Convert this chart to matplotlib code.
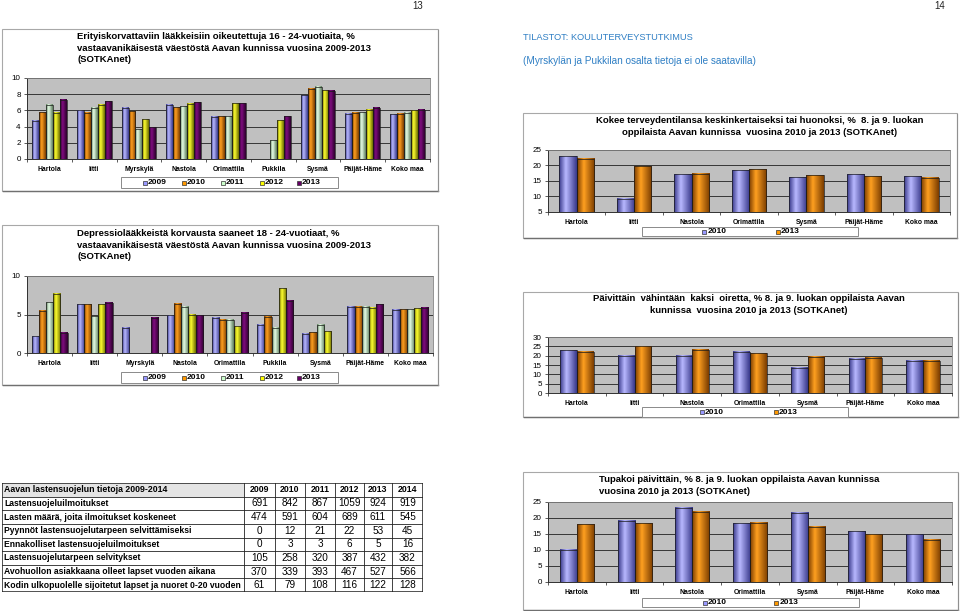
import numpy as np
import matplotlib
matplotlib.use("Agg")
import matplotlib.pyplot as plt
from matplotlib.patches import Rectangle
from matplotlib.lines import Line2D
from matplotlib.colors import LinearSegmentedColormap

plt.rcParams['font.family'] = ['Liberation Sans', 'DejaVu Sans']

# ---- data ----
cats9 = ['Hartola', 'Iitti', 'Myrskylä', 'Nastola', 'Orimattila', 'Pukkila',
         'Sysmä', 'Päijät-Häme', 'Koko maa']
cats7 = ['Hartola', 'Iitti', 'Nastola', 'Orimattila', 'Sysmä', 'Päijät-Häme', 'Koko maa']
years5 = ['2009', '2010', '2011', '2012', '2013']
years2 = ['2010', '2013']
nan = np.nan

# Erityiskorvattaviin laakkeisiin oikeutettuja (per year, per municipality)
erity_2009 = [4.7, 6.0, 6.3, 6.7, 5.2, nan, 7.9, 5.6, 5.5]
erity_2010 = [5.8, 5.7, 5.9, 6.4, 5.3, nan, 8.7, 5.7, 5.6]
erity_2011 = [6.7, 6.3, 3.7, 6.5, 5.3, 2.3, 8.9, 5.8, 5.7]
erity_2012 = [5.7, 6.7, 4.9, 6.8, 6.9, 4.8, 8.5, 6.1, 6.0]
erity_2013 = [7.3, 7.1, 3.9, 7.0, 6.9, 5.3, 8.4, 6.3, 6.1]

# Depressiolaakkeista korvausta saaneet
depr_2009 = [2.2, 6.3, 3.3, 4.9, 4.6, 3.7, 2.5, 6.0, 5.6]
depr_2010 = [5.5, 6.3, nan, 6.4, 4.3, 4.7, 2.7, 6.0, 5.7]
depr_2011 = [6.6, 4.8, nan, 6.0, 4.3, 3.3, 3.7, 6.0, 5.7]
depr_2012 = [7.7, 6.3, nan, 5.0, 3.5, 8.4, 2.8, 5.9, 5.8]
depr_2013 = [2.6, 6.5, 4.6, 4.9, 5.2, 6.8, nan, 6.3, 5.9]

# Kokee terveydentilansa keskinkertaiseksi tai huonoksi
kokee_2010 = [23.0, 9.3, 17.2, 18.5, 16.2, 17.1, 16.6]
kokee_2013 = [22.1, 19.8, 17.3, 18.8, 16.8, 16.6, 16.1]

# Paivittain vahintaan kaksi oiretta
oire_2010 = [22.8, 20.0, 19.9, 22.1, 13.4, 18.4, 17.4]
oire_2013 = [22.1, 25.0, 23.1, 21.3, 19.5, 18.8, 17.4]

# Tupakoi paivittain
tupak_2010 = [10.1, 19.2, 23.2, 18.3, 21.7, 15.8, 15.0]
tupak_2013 = [18.0, 18.3, 22.0, 18.5, 17.3, 14.9, 13.2]

# lastensuojelu table
table_title = 'Aavan lastensuojelun tietoja 2009-2014'
table_years = ['2009', '2010', '2011', '2012', '2013', '2014']
table_rows = ['Lastensuojeluilmoitukset',
              'Lasten määrä, joita ilmoitukset koskeneet',
              'Pyynnöt lastensuojelutarpeen selvittämiseksi',
              'Ennakolliset lastensuojeluilmoitukset',
              'Lastensuojelutarpeen selvitykset',
              'Avohuollon asiakkaana olleet lapset vuoden aikana',
              'Kodin ulkopuolelle sijoitetut lapset ja nuoret 0-20 vuoden']
table_vals = [[691, 842, 867, 1059, 924, 919],
              [474, 591, 604, 689, 611, 545],
              [0, 12, 21, 22, 53, 45],
              [0, 3, 3, 6, 5, 16],
              [105, 258, 320, 387, 432, 382],
              [370, 339, 393, 467, 527, 566],
              [61, 79, 108, 116, 122, 128]]

# bar shading: (dark, light)
shade5 = [('#38388a', '#b8b8ff'), ('#7a3c00', '#ffa020'), ('#5a7a5a', '#e8ffe8'),
          ('#6a6a00', '#ffff30'), ('#2a002a', '#800c80')]
shade2 = [shade5[0], shade5[1]]
legend5 = ['#9999ff', '#ff9900', '#ccffcc', '#ffff00', '#660066']
legend2 = legend5[:2]

W, H = 960, 611
fig = plt.figure(figsize=(W / 100, H / 100), dpi=100)
fig.patch.set_facecolor('white')


def fx(x):
    return x / W


def fy(y):
    return 1 - y / H


def frame(x0, y0, x1, y1):
    fig.patches.append(Rectangle((fx(x0), fy(y1)), (x1 - x0) / W, (y1 - y0) / H,
                                 transform=fig.transFigure, facecolor='white',
                                 edgecolor='#a8a8a8', lw=0.8, zorder=-2))
    fig.lines.append(Line2D([fx(x0 + 1), fx(x1)], [fy(y1), fy(y1)], transform=fig.transFigure,
                            color='#707070', lw=1.0, zorder=-1))
    fig.lines.append(Line2D([fx(x1), fx(x1)], [fy(y0 + 1), fy(y1)], transform=fig.transFigure,
                            color='#909090', lw=0.8, zorder=-1))


def legend(x0, y0, x1, y1, labels, colors, fracs):
    fig.patches.append(Rectangle((fx(x0), fy(y1)), (x1 - x0) / W, (y1 - y0) / H,
                                 transform=fig.transFigure, facecolor='white',
                                 edgecolor='#8a8a8a', lw=0.7, zorder=3))
    yc = (y0 + y1) / 2
    for lab, col, f in zip(labels, colors, fracs):
        xs = x0 + f * (x1 - x0)
        fig.patches.append(Rectangle((fx(xs), fy(yc + 2)), 4 / W, 4 / H,
                                     transform=fig.transFigure, facecolor=col,
                                     edgecolor='#333333', lw=0.5, zorder=4))
        fig.text(fx(xs + 5), fy(yc), lab, fontsize=6.0, fontweight='bold',
                 va='center', ha='left', zorder=4)


def chart(px, cats, series, shades, width, yticks, ylim, lab_fs=4.9):
    x0, y0, x1, y1 = px
    ax = fig.add_axes([fx(x0), fy(y1), (x1 - x0) / W, (y1 - y0) / H])
    ax.set_facecolor('#c0c0c0')
    n = len(series)
    xs = np.arange(len(cats))
    for i, vals in enumerate(series):
        vals = np.array(vals, dtype=float)
        bars = ax.bar(xs + (i - (n - 1) / 2) * width, vals, width,
                      facecolor='none', edgecolor='#1a1a1a', lw=0.5, zorder=3)
        dark, light = shades[i]
        cmap = LinearSegmentedColormap.from_list('s', [(0, dark), (0.38, light), (1, dark)])
        grad = np.linspace(0, 1, 64)[None, :]
        for b, v in zip(bars, vals):
            if np.isnan(v):
                continue
            bx = b.get_x()
            ax.imshow(grad, extent=[bx, bx + b.get_width(), ylim[0], v], aspect='auto',
                      cmap=cmap, vmin=0, vmax=1, zorder=2, interpolation='bilinear')
    ax.set_xlim(-0.5, len(cats) - 0.5)
    ax.set_ylim(ylim)
    ax.set_yticks(yticks)
    ax.set_xticks(xs, cats)
    ax.set_xticks(np.arange(len(cats) + 1) - 0.5, minor=True)
    ax.tick_params(axis='x', which='major', length=0, pad=5, labelsize=lab_fs)
    ax.tick_params(axis='x', which='minor', length=2.5, width=0.6, color='#404040')
    ax.tick_params(axis='y', length=2.5, width=0.6, pad=2, labelsize=5.8, color='#404040')
    for t in ax.get_xticklabels():
        t.set_fontweight('bold')
    ax.grid(axis='y', color='#202020', lw=0.6)
    ax.set_axisbelow(True)
    for s in ['top', 'right']:
        ax.spines[s].set_color('#808080')
        ax.spines[s].set_linewidth(0.6)
    for s in ['left', 'bottom']:
        ax.spines[s].set_color('#303030')
        ax.spines[s].set_linewidth(0.7)
    return ax


# page header
fig.text(fx(418), fy(6), '13', fontsize=7, ha='center', va='center', color='#222222')
fig.text(fx(940), fy(6), '14', fontsize=7, ha='center', va='center', color='#222222')
fig.text(fx(523), fy(37), 'TILASTOT: KOULUTERVEYSTUTKIMUS', fontsize=6.7, ha='left',
         va='center', color='#2f7fc4')
fig.text(fx(523), fy(61), '(Myrskylän ja Pukkilan osalta tietoja ei ole saatavilla)',
         fontsize=7.2, ha='left', va='center', color='#2f7fc4')

title_kw = dict(fontsize=6.8, fontweight='bold', va='top', linespacing=1.38)

# chart 1
frame(2, 29, 438, 191)
fig.text(fx(77), fy(32), 'Erityiskorvattaviin lääkkeisiin oikeutettuja 16 - 24-vuotiaita, %\n'
         'vastaavanikäisestä väestöstä Aavan kunnissa vuosina 2009-2013\n(SOTKAnet)',
         ha='left', **title_kw)
chart((27, 78, 430, 159), cats9, [erity_2009, erity_2010, erity_2011, erity_2012, erity_2013],
      shade5, 0.155, np.arange(0, 11, 2), (0, 10))
legend(121, 177, 338, 188, years5, legend5, [0.10, 0.28, 0.46, 0.64, 0.81])

# chart 2
frame(2, 225, 438, 385)
fig.text(fx(77), fy(229), 'Depressiolääkkeistä korvausta saaneet 18 - 24-vuotiaat, %\n'
         'vastaavanikäisestä väestöstä Aavan kunnissa vuosina 2009-2013\n(SOTKAnet)',
         ha='left', **title_kw)
chart((27, 276, 433, 353), cats9, [depr_2009, depr_2010, depr_2011, depr_2012, depr_2013],
      shade5, 0.16, [0, 5, 10], (0, 10))
legend(121, 372, 338, 383, years5, legend5, [0.10, 0.28, 0.46, 0.64, 0.81])

# chart 3
frame(523, 113, 957, 238)
fig.text(fx(760), fy(116), 'Kokee terveydentilansa keskinkertaiseksi tai huonoksi, %  8. ja 9. luokan\n'
         'oppilaista Aavan kunnissa  vuosina 2010 ja 2013 (SOTKAnet)', ha='center',
         multialignment='center', **title_kw)
chart((548, 150, 950, 212), cats7, [kokee_2010, kokee_2013], shade2, 0.3,
      np.arange(5, 26, 5), (5, 25))
legend(642, 227, 858, 236, years2, legend2, [0.28, 0.62])

# chart 4
frame(523, 292, 958, 417)
fig.text(fx(749), fy(294), 'Päivittäin  vähintään  kaksi  oiretta, % 8. ja 9. luokan oppilaista Aavan\n'
         'kunnissa  vuosina 2010 ja 2013 (SOTKAnet)', ha='center',
         multialignment='center', **title_kw)
chart((548, 337, 952, 393), cats7, [oire_2010, oire_2013], shade2, 0.29,
      np.arange(0, 31, 5), (0, 30))
legend(642, 407, 848, 417, years2, legend2, [0.28, 0.64])

# chart 5
frame(523, 472, 958, 610)
fig.text(fx(599), fy(475), 'Tupakoi päivittäin, % 8. ja 9. luokan oppilaista Aavan kunnissa\n'
         'vuosina 2010 ja 2013 (SOTKAnet)', ha='left', **title_kw)
chart((548, 502, 952, 582), cats7, [tupak_2010, tupak_2013], shade2, 0.295,
      np.arange(0, 26, 5), (0, 25))
legend(642, 598, 859, 607, years2, legend2, [0.28, 0.61])

# table
tx0, ty0, tx1, ty1 = 2, 483, 423, 592
axt = fig.add_axes([fx(tx0), fy(ty1), (tx1 - tx0) / W, (ty1 - ty0) / H])
axt.set_xlim(0, tx1 - tx0)
axt.set_ylim(ty1 - ty0, 0)
axt.axis('off')
col_edges = [0, 242, 273, 303, 333, 362, 390, 421]
nrows = len(table_rows) + 1
rh = (ty1 - ty0) / nrows
axt.add_patch(Rectangle((0, 0), col_edges[1], rh, facecolor='#e4e4e4', edgecolor='none'))
for r in range(1, nrows):
    axt.plot([0, col_edges[-1]], [r * rh, r * rh], color='#222222', lw=0.6)
for c in col_edges[1:-1]:
    axt.plot([c, c], [0, nrows * rh], color='#222222', lw=0.6)
axt.add_patch(Rectangle((0, 0), col_edges[-1], nrows * rh, facecolor='none',
                        edgecolor='#222222', lw=1.1))
axt.text(2, rh / 2, table_title, fontsize=6.3, fontweight='bold', va='center', ha='left')
for j, yr in enumerate(table_years):
    axt.text((col_edges[j + 1] + col_edges[j + 2]) / 2, rh / 2, yr, fontsize=6.3,
             fontweight='bold', va='center', ha='center')
for i, (lab, vals) in enumerate(zip(table_rows, table_vals)):
    yc = (i + 1.5) * rh
    axt.text(2, yc, lab, fontsize=6.2, fontweight='bold', va='center', ha='left')
    for j, v in enumerate(vals):
        axt.text((col_edges[j + 1] + col_edges[j + 2]) / 2, yc, str(v), fontsize=7.2,
                 va='center', ha='center')

fig.savefig('out.png', dpi=100)
